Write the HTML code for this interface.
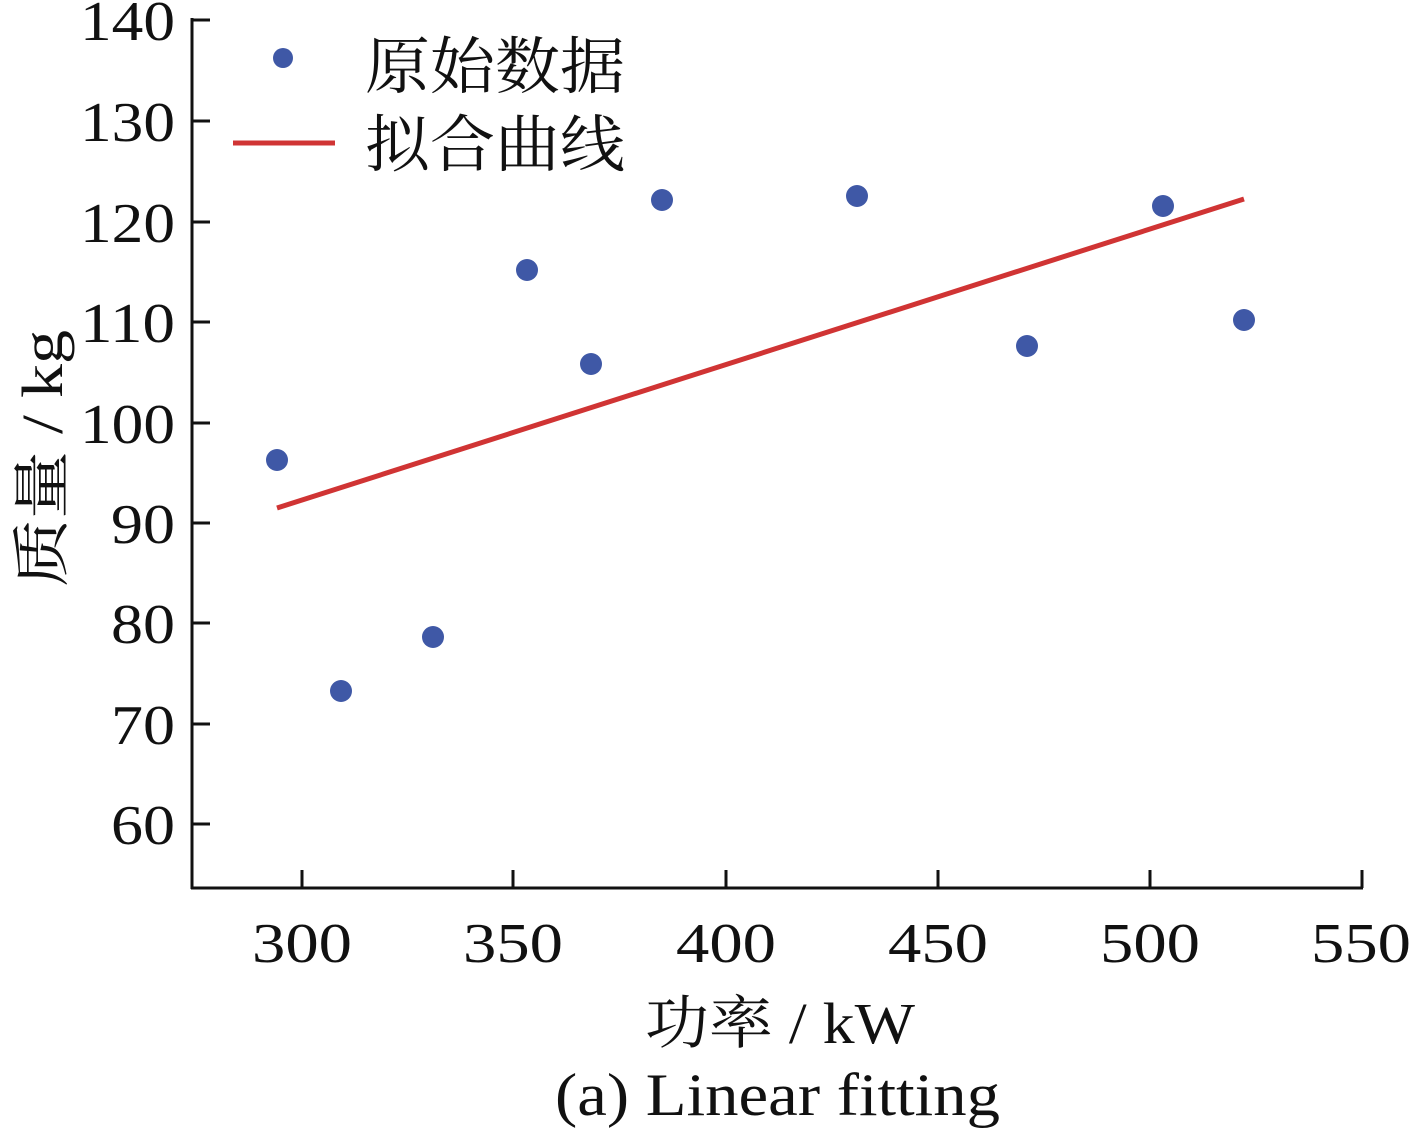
<!DOCTYPE html>
<html><head><meta charset="utf-8"><style>
html,body{margin:0;padding:0;background:#fff;}
svg text{font-family:"Liberation Serif","Noto Serif CJK SC",serif;fill:#111;}
</style></head><body>
<svg width="1411" height="1130" viewBox="0 0 1411 1130" xmlns="http://www.w3.org/2000/svg">
<g stroke="#111" stroke-width="3" fill="none">
<line x1="192" y1="18" x2="192" y2="889"/>
<line x1="191" y1="888" x2="1363" y2="888"/>
<line x1="1362" y1="888" x2="1362" y2="870"/>
<line x1="302" y1="888" x2="302" y2="870"/>
<line x1="513" y1="888" x2="513" y2="870"/>
<line x1="726" y1="888" x2="726" y2="870"/>
<line x1="938" y1="888" x2="938" y2="870"/>
<line x1="1150" y1="888" x2="1150" y2="870"/>
<line x1="192" y1="20" x2="210" y2="20"/>
<line x1="192" y1="121" x2="210" y2="121"/>
<line x1="192" y1="222" x2="210" y2="222"/>
<line x1="192" y1="322" x2="210" y2="322"/>
<line x1="192" y1="423" x2="210" y2="423"/>
<line x1="192" y1="523" x2="210" y2="523"/>
<line x1="192" y1="623" x2="210" y2="623"/>
<line x1="192" y1="724" x2="210" y2="724"/>
<line x1="192" y1="824" x2="210" y2="824"/>
</g>
<g font-size="56" lengthAdjust="spacingAndGlyphs">
<text x="80" y="40" textLength="95" lengthAdjust="spacingAndGlyphs">140</text>
<text x="80" y="141" textLength="95" lengthAdjust="spacingAndGlyphs">130</text>
<text x="80" y="242" textLength="95" lengthAdjust="spacingAndGlyphs">120</text>
<text x="80" y="342" textLength="95" lengthAdjust="spacingAndGlyphs">110</text>
<text x="80" y="443" textLength="95" lengthAdjust="spacingAndGlyphs">100</text>
<text x="111" y="543" textLength="64" lengthAdjust="spacingAndGlyphs">90</text>
<text x="111" y="643" textLength="64" lengthAdjust="spacingAndGlyphs">80</text>
<text x="111" y="744" textLength="64" lengthAdjust="spacingAndGlyphs">70</text>
<text x="111" y="844" textLength="64" lengthAdjust="spacingAndGlyphs">60</text>
<text x="252" y="962" textLength="100" lengthAdjust="spacingAndGlyphs">300</text>
<text x="463" y="962" textLength="100" lengthAdjust="spacingAndGlyphs">350</text>
<text x="676" y="962" textLength="100" lengthAdjust="spacingAndGlyphs">400</text>
<text x="888" y="962" textLength="100" lengthAdjust="spacingAndGlyphs">450</text>
<text x="1100" y="962" textLength="100" lengthAdjust="spacingAndGlyphs">500</text>
<text x="1311" y="962" textLength="100" lengthAdjust="spacingAndGlyphs">550</text>
</g>
<text x="645" y="1043" font-size="58" textLength="270" lengthAdjust="spacingAndGlyphs">功率 / kW</text>
<text x="555" y="1115" font-size="60" textLength="445" lengthAdjust="spacingAndGlyphs">(a) Linear fitting</text>
<text font-size="58" transform="translate(62,587) rotate(-90)" textLength="257" lengthAdjust="spacingAndGlyphs">质量 / kg</text>
<line x1="277" y1="508" x2="1244" y2="199" stroke="#d03434" stroke-width="5"/>
<g fill="#3f58a6">
<circle cx="277" cy="460" r="11"/>
<circle cx="341" cy="691" r="11"/>
<circle cx="433" cy="637" r="11"/>
<circle cx="527" cy="270" r="11"/>
<circle cx="591" cy="364" r="11"/>
<circle cx="662" cy="200" r="11"/>
<circle cx="857" cy="196" r="11"/>
<circle cx="1027" cy="346" r="11"/>
<circle cx="1163" cy="206" r="11"/>
<circle cx="1244" cy="320" r="11"/>
<circle cx="283" cy="58" r="10"/>
</g>
<line x1="233" y1="143" x2="335" y2="143" stroke="#d03434" stroke-width="5"/>
<text x="365" y="88" font-size="62" textLength="260" lengthAdjust="spacingAndGlyphs">原始数据</text>
<text x="365" y="166" font-size="62" textLength="260" lengthAdjust="spacingAndGlyphs">拟合曲线</text>
</svg>
</body></html>
